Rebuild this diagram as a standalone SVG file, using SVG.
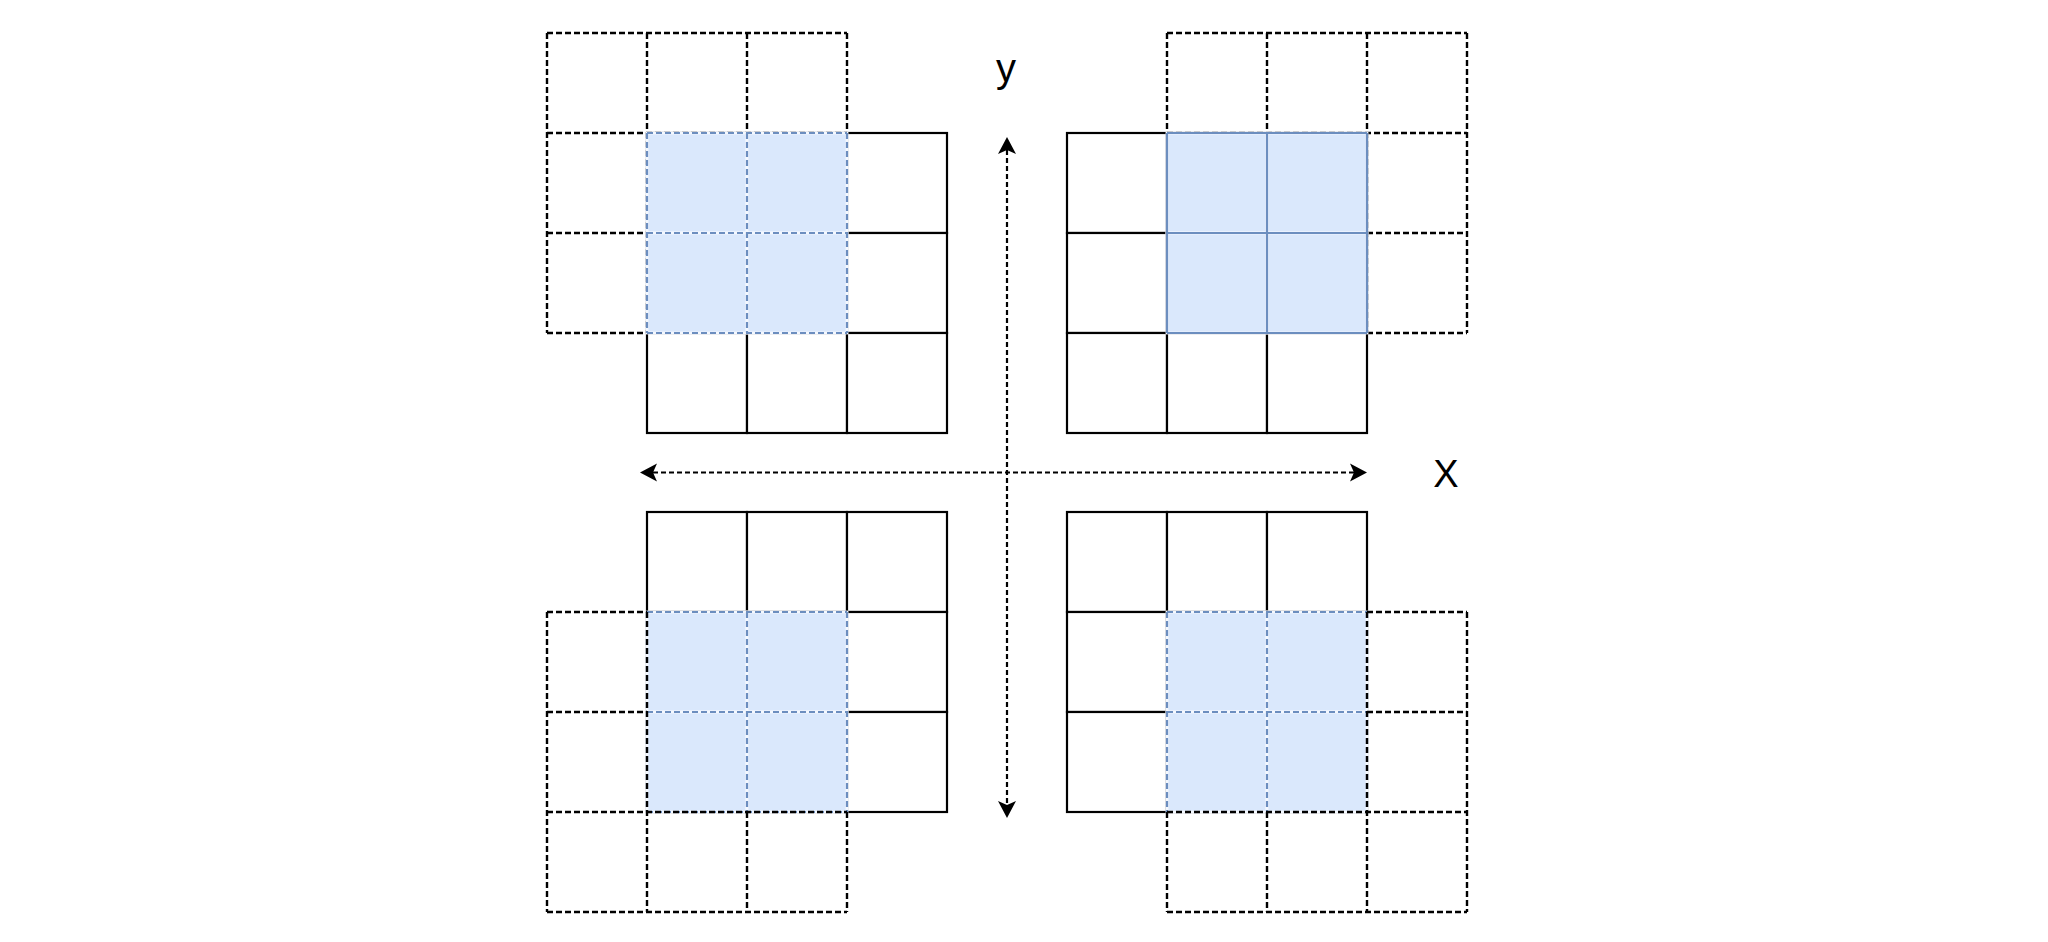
<svg xmlns="http://www.w3.org/2000/svg" width="2048" height="942" viewBox="0 0 2048 942">
  <style>
    .s { fill: #ffffff; stroke: #000000; stroke-width: 2.2; }
    .d { fill: none; stroke: #000000; stroke-width: 2.4; stroke-dasharray: 6 3; }
    .under { fill: #dae8fc; stroke: #f4f8fe; stroke-width: 2.8; }
    .bd { fill: none; stroke: #6c8ebf; stroke-width: 2.2; stroke-dasharray: 6 3; }
    .bs { fill: none; stroke: #6c8ebf; stroke-width: 2.2; }
    .axis { fill: none; stroke: #000000; stroke-width: 2.2; stroke-dasharray: 5 3; }
    .lbl { font-family: "Liberation Sans", Arial, sans-serif; fill: #000000; text-anchor: middle; }
  </style>
  <defs>
    <marker id="arr" viewBox="-20 -10 22 20" markerUnits="userSpaceOnUse" markerWidth="22" markerHeight="20" refX="-13" refY="0" orient="auto-start-reverse">
      <path d="M0,0 L-17,-9 L-13,0 L-17,9 Z" fill="#000000" stroke="none"/>
    </marker>
    <g id="solid3">
      <rect class="s" x="0" y="0" width="100" height="100"/>
      <rect class="s" x="100" y="0" width="100" height="100"/>
      <rect class="s" x="200" y="0" width="100" height="100"/>
      <rect class="s" x="0" y="100" width="100" height="100"/>
      <rect class="s" x="100" y="100" width="100" height="100"/>
      <rect class="s" x="200" y="100" width="100" height="100"/>
      <rect class="s" x="0" y="200" width="100" height="100"/>
      <rect class="s" x="100" y="200" width="100" height="100"/>
      <rect class="s" x="200" y="200" width="100" height="100"/>
    </g>
    <g id="blue2base">
      <rect class="under" x="0" y="0" width="100" height="100"/>
      <rect class="under" x="100" y="0" width="100" height="100"/>
      <rect class="under" x="0" y="100" width="100" height="100"/>
      <rect class="under" x="100" y="100" width="100" height="100"/>
    </g>
    <g id="blue2d">
      <use href="#blue2base"/>
      <path class="bd" d="M0,0 H200 M0,100 H200 M0,200 H200 M0,0 V200 M100,0 V200 M200,0 V200"/>
    </g>
    <g id="blue2s">
      <use href="#blue2base"/>
      <path class="bs" d="M0,0 H200 M0,100 H200 M0,200 H200 M0,0 V200 M100,0 V200 M200,0 V200"/>
    </g>
  </defs>
  <rect x="0" y="0" width="2048" height="942" fill="#ffffff"/>

  <g id="top-left">
    <use href="#solid3" x="647" y="133"/>
    <path class="d" d="M547,33 H847 M547,133 H847 M547,233 H647 M547,333 H647 M547,33 V333 M647,33 V333 M747,33 V133 M847,33 V133"/>
    <use href="#blue2d" x="647" y="133"/>
  </g>

  <g id="top-right">
    <use href="#solid3" x="1067" y="133"/>
    <path class="d" d="M1167,33 H1467 M1167,133 H1467 M1367,233 H1467 M1367,333 H1467 M1167,33 V133 M1267,33 V133 M1367,33 V333 M1467,33 V333"/>
    <use href="#blue2s" x="1167" y="133"/>
  </g>

  <g id="bottom-left">
    <use href="#solid3" x="647" y="512"/>
    <use href="#blue2d" x="647" y="612"/>
    <path class="d" d="M547,612 V912 M647,612 V912 M747,812 V912 M847,812 V912 M547,612 H647 M547,712 H647 M547,812 H847 M547,912 H847"/>
  </g>

  <g id="bottom-right">
    <use href="#solid3" x="1067" y="512"/>
    <use href="#blue2d" x="1167" y="612"/>
    <path class="d" d="M1167,812 V912 M1267,812 V912 M1367,612 V912 M1467,612 V912 M1367,612 H1467 M1367,712 H1467 M1167,812 H1467 M1167,912 H1467"/>
  </g>

  <g id="connectors">
    <line class="axis" x1="1007" y1="150" x2="1007" y2="805" marker-start="url(#arr)" marker-end="url(#arr)"/>
    <line class="axis" x1="653" y1="472.5" x2="1354" y2="472.5" marker-start="url(#arr)" marker-end="url(#arr)"/>
  </g>

  <g id="label-y">
    <text class="lbl" x="1006" y="82" font-size="40">y</text>
  </g>
  <g id="label-x">
    <text class="lbl" x="1446" y="486.5" font-size="38">X</text>
  </g>
</svg>
